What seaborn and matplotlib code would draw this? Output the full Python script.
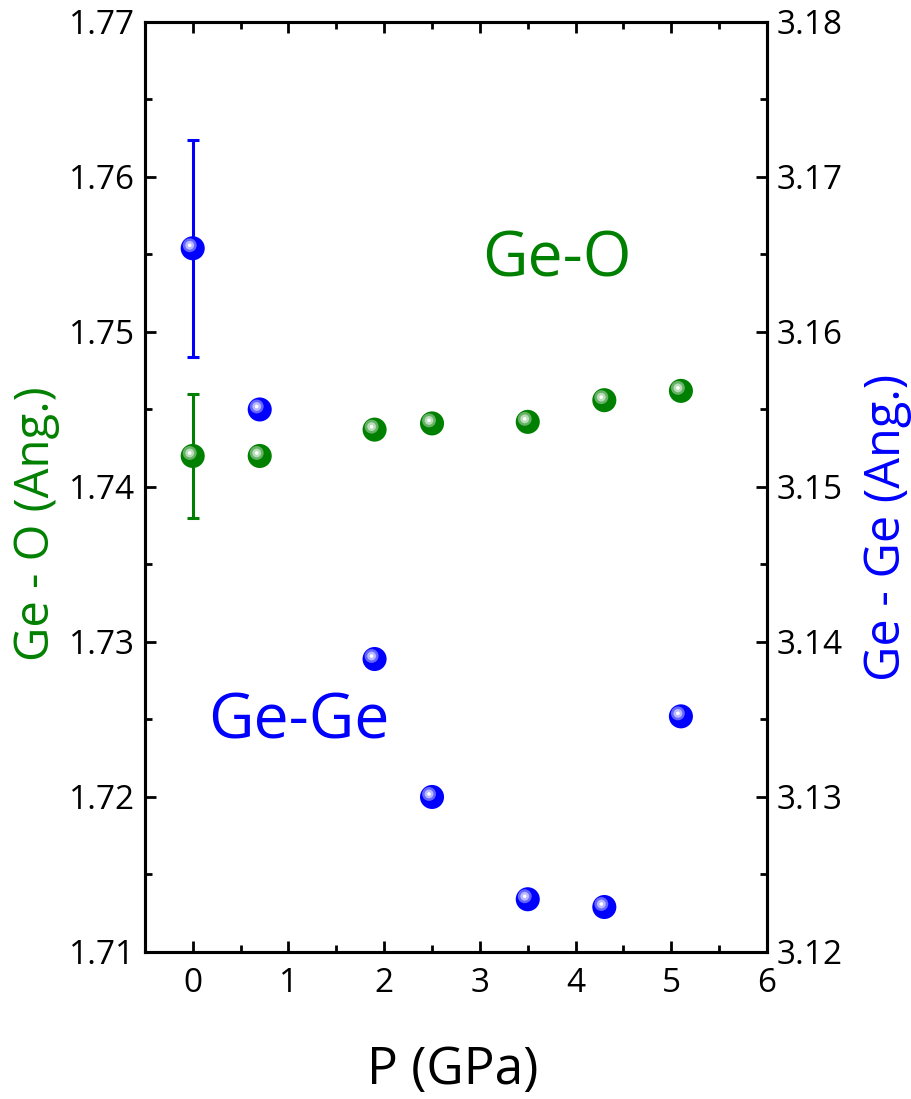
import numpy as np
import pandas as pd
import matplotlib
matplotlib.use("Agg")
import matplotlib.pyplot as plt
import matplotlib.transforms as mtransforms
from matplotlib.ticker import MultipleLocator, FormatStrFormatter
import seaborn as sns

# данные
pressure = [0, 0.7, 1.9, 2.5, 3.5, 4.3, 5.1]
ge_o = [1.7420, 1.7420, 1.7437, 1.7441, 1.7442, 1.7456, 1.7462]
ge_ge = [3.1654, 3.1550, 3.1389, 3.1300, 3.1234, 3.1229, 3.1352]
err_p = [0]
ge_o_err_val = [1.742]
ge_o_err = [0.004]
ge_ge_err_val = [3.1654]
ge_ge_err = [0.0070]

green = '#008000'
blue = '#0000ff'

sns.set_style("ticks")
plt.rcParams['font.family'] = ['Open Sans', 'DejaVu Sans']
plt.rcParams['text.color'] = 'black'
plt.rcParams['axes.labelcolor'] = 'black'
plt.rcParams['xtick.color'] = 'black'
plt.rcParams['ytick.color'] = 'black'

fig = plt.figure(figsize=(9.11, 10.99), dpi=100)
ax = fig.add_axes([0.159, 0.1338, 0.683, 0.8462])
ax2 = ax.twinx()


def balls(axis, x, y, color):
    # шарик с бликом
    sns.scatterplot(x=x, y=y, ax=axis, color=color, s=300, edgecolor='none', zorder=5, legend=False)
    off = mtransforms.offset_copy(axis.transData, fig=fig, x=-3, y=3, units='dots')
    axis.scatter(x, y, s=100, color='white', alpha=0.4, edgecolor='none', transform=off, zorder=6)
    axis.scatter(x, y, s=40, color='white', alpha=0.55, edgecolor='none', transform=off, zorder=7)
    axis.scatter(x, y, s=7, color='white', alpha=1.0, edgecolor='none', transform=off, zorder=8)


ax.errorbar(err_p, ge_o_err_val, yerr=ge_o_err, fmt='none', ecolor=green,
            elinewidth=2.2, capsize=4.5, capthick=2.2, zorder=3)
balls(ax, pressure, ge_o, green)

ax2.errorbar(err_p, ge_ge_err_val, yerr=ge_ge_err, fmt='none', ecolor=blue,
             elinewidth=2.2, capsize=4.5, capthick=2.2, zorder=3)
balls(ax2, pressure, ge_ge, blue)

ax.set_xlim(-0.5, 6)
ax.set_ylim(1.71, 1.77)
ax2.set_ylim(3.12, 3.18)

ax.xaxis.set_major_locator(MultipleLocator(1))
ax.xaxis.set_minor_locator(MultipleLocator(0.5))
for a in (ax, ax2):
    a.yaxis.set_major_locator(MultipleLocator(0.01))
    a.yaxis.set_minor_locator(MultipleLocator(0.005))
    a.yaxis.set_major_formatter(FormatStrFormatter('%.2f'))

ax.tick_params(axis='x', which='both', direction='in', top=True, labelsize=24, pad=11)
ax.tick_params(axis='y', which='both', direction='in', left=True, right=False, labelsize=24, pad=7)
ax2.tick_params(axis='y', which='both', direction='in', right=True, labelsize=24, pad=7)
for a in (ax, ax2):
    a.tick_params(which='major', length=8, width=2)
    a.tick_params(which='minor', length=5, width=2)
    for s in a.spines.values():
        s.set_linewidth(2.2)
        s.set_color('black')
        s.set_visible(True)

ax.set_xlabel('P (GPa)', fontsize=37, va='center')
ax.xaxis.set_label_coords(0.495, -0.127)
ax.set_ylabel('Ge - O (Ang.)', fontsize=34, color=green, va='center')
ax.yaxis.set_label_coords(-0.174, 0.461)
ax2.set_ylabel('Ge - Ge (Ang.)', fontsize=35, color=blue, va='center')
ax2.yaxis.set_label_coords(1.193, 0.457)

ax.text(3.02, 1.7546, 'Ge-O', fontsize=45, color=green, ha='left', va='center')
ax.text(0.16, 1.7248, 'Ge-Ge', fontsize=45, color=blue, ha='left', va='center')

fig.savefig('out.png', dpi=100)
